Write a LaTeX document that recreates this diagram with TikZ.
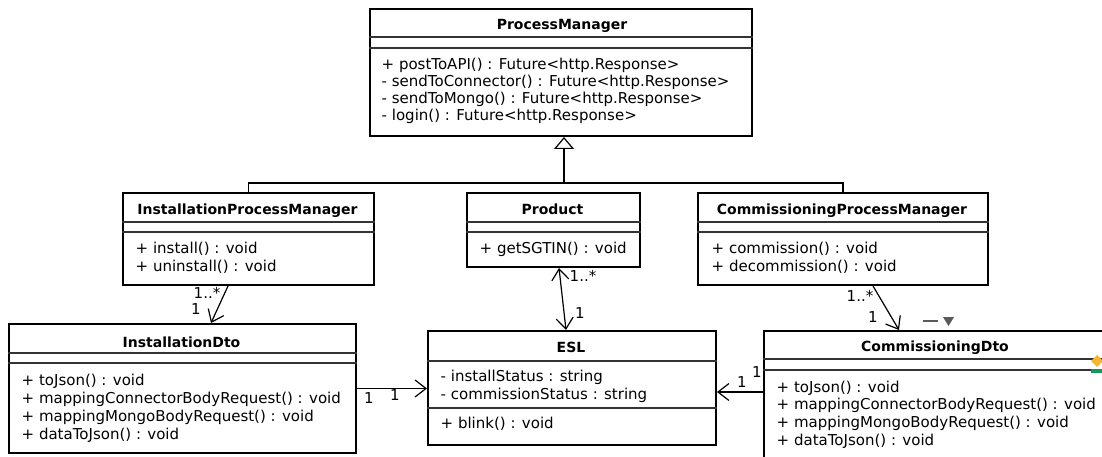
\documentclass[tikz,border=0pt]{standalone}
\usepackage{fontspec}
\setmainfont{DejaVu Sans}
\usetikzlibrary{arrows.meta,calc}

\definecolor{sepgray}{HTML}{333333}
\definecolor{markgray}{HTML}{5A5A5A}
\definecolor{pinorange}{HTML}{F5B630}
\definecolor{bargreen}{HTML}{13985A}

\newcommand{\memberfont}{\fontsize{15}{18}\selectfont}
\newcommand{\titlefont}{\fontsize{14}{17}\selectfont\bfseries}

\tikzset{
  cls/.style={draw=black, line width=2pt, anchor=north west, inner sep=0pt, fill=white},
  sepline/.style={draw=sepgray, line width=1.5pt},
  ctitle/.style={font=\titlefont, anchor=base, inner sep=0pt},
  member/.style={font=\memberfont, anchor=base west, inner sep=0pt},
  mult/.style={font=\memberfont, inner sep=0pt},
  wire/.style={line width=1.2pt, draw=black},
  assoc/.style={wire, -{Straight Barb[length=11pt,width=17pt,line width=1.2pt]}},
  biassoc/.style={wire, {Straight Barb[length=11pt,width=17pt,line width=1.2pt]}-{Straight Barb[length=11pt,width=17pt,line width=1.2pt]}},
  gen/.style={wire, -{Triangle[open,length=12pt,width=20pt,line width=1.2pt]}}
}

\begin{document}
\begin{tikzpicture}[x=1pt,y=-1pt]
\useasboundingbox (0,0) rectangle (1102,457);
\clip (0,0) rectangle (1102,457);

% ---------- class boxes ----------
\node[cls, minimum width=382pt, minimum height=127pt] (pm)   at (369,8)   {};
\node[cls, minimum width=251pt, minimum height=92pt]  (ipm)  at (122,192) {};
\node[cls, minimum width=173pt, minimum height=74pt]  (prod) at (466,192) {};
\node[cls, minimum width=290pt, minimum height=92pt]  (cpm)  at (697,192) {};
\node[cls, minimum width=347pt, minimum height=129pt] (idto) at (8,323)   {};
\node[cls, minimum width=288pt, minimum height=114pt] (esl)  at (427,330) {};
\node[cls, minimum width=344pt, minimum height=150pt] (cdto) at (763,330) {};

% ---------- compartment separators ----------
\foreach \b/\a/\c in {pm/29/40, ipm/30/40, prod/30/40, cpm/30/40, idto/30/40, esl/31/78, cdto/29/40}{
  \draw[sepline] ([yshift=-\a pt]\b.north west) -- ([yshift=-\a pt]\b.north east);
  \draw[sepline] ([yshift=-\c pt]\b.north west) -- ([yshift=-\c pt]\b.north east);
}

% ---------- class names ----------
\node[ctitle] (pm-t)   at (562,30)  {ProcessManager};
\node[ctitle] (ipm-t)  at (247.5,214) {InstallationProcessManager};
\node[ctitle] (prod-t) at (552.5,214) {Product};
\node[ctitle] (cpm-t)  at (842,214) {CommissioningProcessManager};
\node[ctitle] (idto-t) at (181.5,347) {InstallationDto};
\node[ctitle] (esl-t)  at (571,352) {ESL};
\node[ctitle] (cdto-t) at (935,351) {CommissioningDto};

% ---------- members ----------
\foreach \t [count=\i] in {{+ postToAPI() : Future<http.Response>},
                           {- sendToConnector() : Future<http.Response>},
                           {- sendToMongo() : Future<http.Response>},
                           {- login() : Future<http.Response>}}
  \node[member] (pm-m\i) at (381.5,{70+17*(\i-1)}) {\t};

\foreach \t [count=\i] in {{+ install() : void}, {+ uninstall() : void}}
  \node[member] (ipm-m\i) at (135.5,{253+18*(\i-1)}) {\t};

\node[member] (prod-m1) at (479.5,253) {+ getSGTIN() : void};

\foreach \t [count=\i] in {{+ commission() : void}, {+ decommission() : void}}
  \node[member] (cpm-m\i) at (711.5,{253+18*(\i-1)}) {\t};

\foreach \t [count=\i] in {{+ toJson() : void},
                           {+ mappingConnectorBodyRequest() : void},
                           {+ mappingMongoBodyRequest() : void},
                           {+ dataToJson() : void}}
  \node[member] (idto-m\i) at (21.5,{385+18.3*(\i-1)}) {\t};

\node[member] (esl-a1) at (440.5,381) {- installStatus : string};
\node[member] (esl-a2) at (440.5,399) {- commissionStatus : string};
\node[member] (esl-m1) at (440.5,428) {+ blink() : void};

\foreach \t [count=\i] in {{+ toJson() : void},
                           {+ mappingConnectorBodyRequest() : void},
                           {+ mappingMongoBodyRequest() : void},
                           {+ dataToJson() : void}}
  \node[member] (cdto-m\i) at (776.5,{392+17.8*(\i-1)}) {\t};

% ---------- generalization ----------
\coordinate (hub) at (564,183);
\draw[gen] (hub) -- (hub |- pm.south);
\draw[wire] (ipm.north) |- (hub) -| (cpm.north);

% ---------- associations ----------
\draw[assoc] ([xshift=-20.5pt]ipm.south) -- ([xshift=28.5pt]idto.north);
\draw[biassoc] ([xshift=5.5pt]prod.south) -- ([xshift=-6pt]esl.north);
\draw[assoc] ([xshift=30pt]cpm.south) -- ([xshift=-37pt]cdto.north);
\draw[assoc] (idto.east) -- (idto.east -| esl.west);
\coordinate (eslr) at ([yshift=-4pt]esl.east);
\draw[assoc] (eslr -| cdto.west) -- (eslr);

% ---------- multiplicities ----------
\node[mult] (m1) at (207,293) {1..*};
\node[mult] (m2) at (196,309) {1};
\node[mult] (m3) at (583,276) {1..*};
\node[mult] (m4) at (580,313) {1};
\node[mult] (m5) at (860,296) {1..*};
\node[mult] (m6) at (873,317) {1};
\node[mult] (m7) at (369,398) {1};
\node[mult] (m8) at (395,395) {1};
\node[mult] (m9) at (742,382) {1};
\node[mult] (m10) at (757,372) {1};

% ---------- small markers beside CommissioningDto ----------
\draw[markgray, line width=2pt] (923,321) -- (938,321);
\fill[markgray] (943,317) -- (954,317) -- (948.5,326) -- cycle;
\fill[pinorange] (1097,355) -- (1103,361) -- (1097,367) -- (1091,361) -- cycle;
\fill[bargreen] (1091,369) rectangle (1102,373);
\end{tikzpicture}
\end{document}
